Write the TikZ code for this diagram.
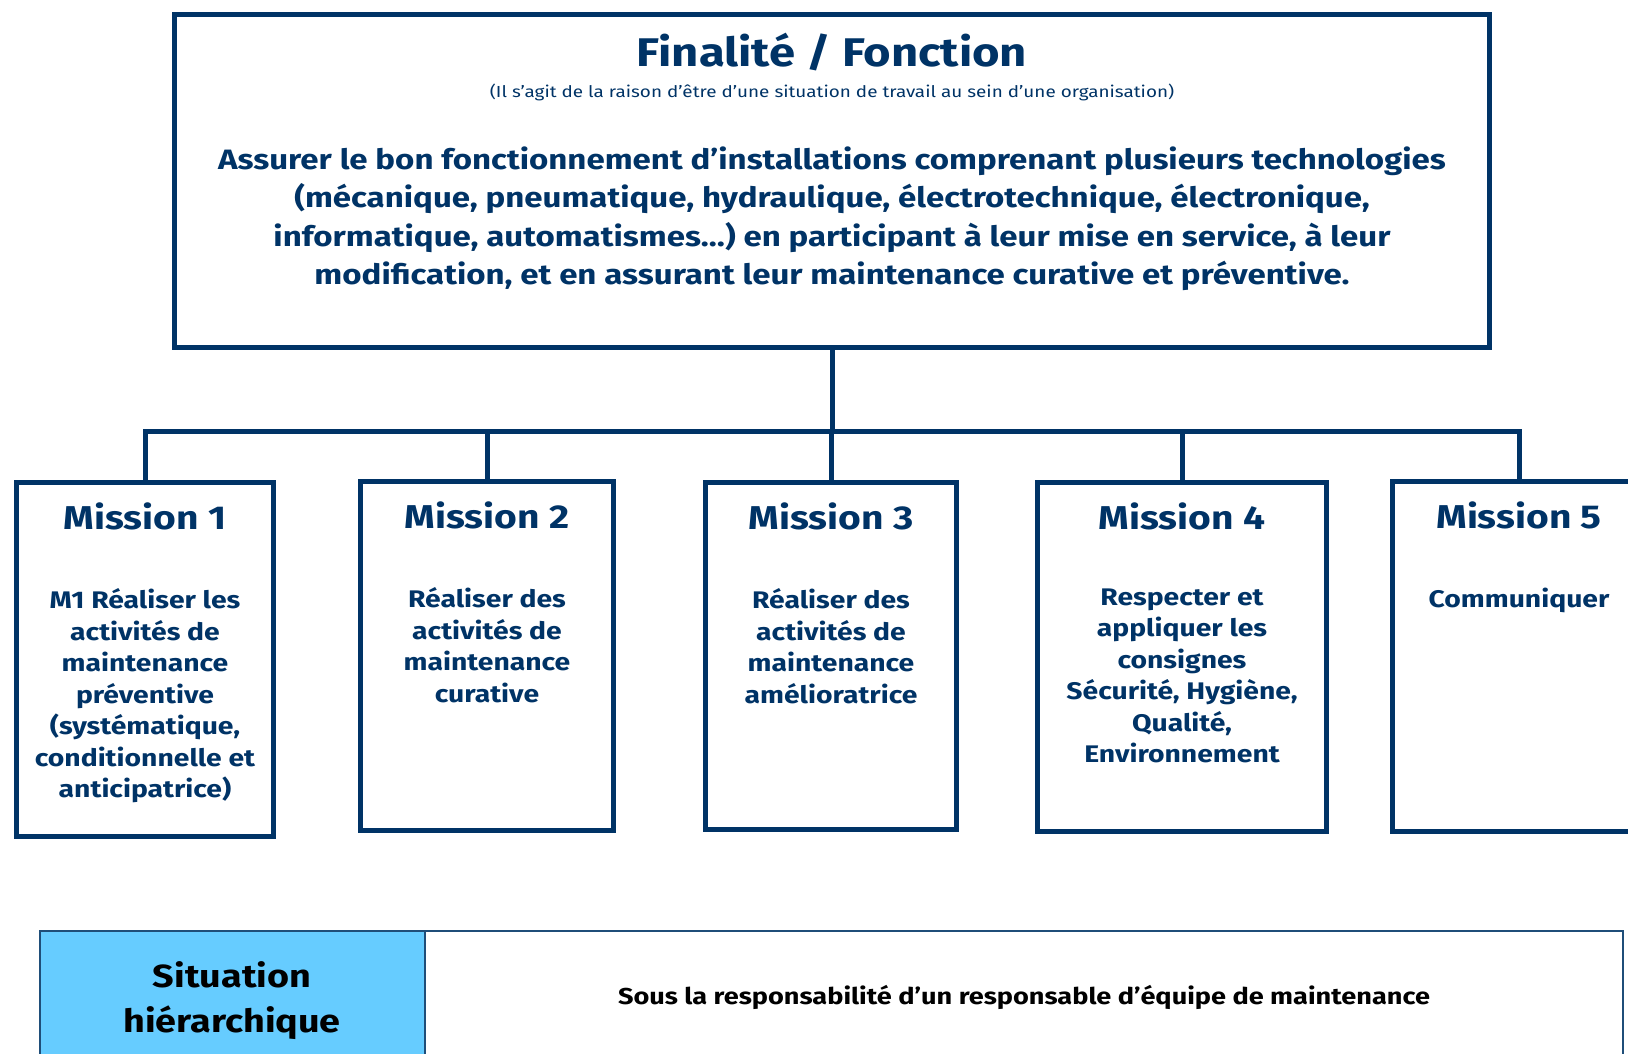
\documentclass[tikz,border=0pt]{standalone}
\usepackage{fontspec}
\setmainfont{Fira Sans}[FakeStretch=1.18]
\usepackage{xcolor}
\usepackage{tikz}
\usetikzlibrary{positioning,calc}

\definecolor{navy}{HTML}{003366}
\definecolor{skyblue}{HTML}{66CCFF}
\definecolor{gridblue}{HTML}{1F4E79}

\tikzset{
    boxline/.style={draw=navy, line width=5pt},
    missionbox/.style={boxline, rectangle, inner sep=0pt},
    missiontitle/.style={text=navy, font=\fontsize{33}{38}\selectfont\bfseries},
    missiontext/.style={text=navy, font=\fontsize{24}{31.5}\selectfont\bfseries, align=center, anchor=north},
    cell/.style={draw=gridblue, line width=1.5pt, rectangle, inner sep=0pt}
}

\begin{document}
\begin{tikzpicture}[x=1pt,y=-1pt]
        \useasboundingbox (0,0) rectangle (1628,1054);
        \clip (0,0) rectangle (1628,1054);

        % Finalite box
        \node[missionbox, minimum width=1315pt, minimum height=333pt] (fin) at (832,181) {};
        \node[text=navy, font=\fontsize{40}{46}\selectfont\bfseries] (fintitle) at (832,52) {Finalité / Fonction};
        \node[text=navy, font=\fontsize{16}{19}\selectfont] (finsub) at (832,92) {(Il s’agit de la raison d’être d’une situation de travail au sein d’une organisation)};
        \node[text=navy, font=\fontsize{28}{38.5}\selectfont\bfseries, align=center, anchor=north] (finbody) at (832,143)
            {Assurer le bon fonctionnement d’installations comprenant plusieurs technologies\\
             (mécanique, pneumatique, hydraulique, électrotechnique, électronique,\\
             informatique, automatismes…) en participant à leur mise en service, à leur\\
             modification, et en assurant leur maintenance curative et préventive.};

        % Missions
        \node[missionbox, minimum width=257pt, minimum height=354pt] (m1) at (145,659.5) {};
        \node[missionbox, minimum width=253pt, minimum height=349pt] (m2) at (487,656) {};
        \node[missionbox, minimum width=251pt, minimum height=347pt] (m3) at (831,656) {};
        \node[missionbox, minimum width=289pt, minimum height=349pt] (m4) at (1182,657) {};
        \node[missionbox, minimum width=253pt, minimum height=350pt] (m5) at (1519,656.5) {};

        \foreach \m/\n in {m1/1, m2/2, m3/3, m4/4, m5/5}
            \node[missiontitle] (t\m) at ($(\m.north)+(0,36)$) {Mission \n};

        \node[missiontext] (b1) at ($(m1.north)+(0,105)$) {M1 Réaliser les\\activités de\\maintenance\\préventive\\(systématique,\\conditionnelle et\\anticipatrice)};
        \node[missiontext] (b2) at ($(m2.north)+(0,105)$) {Réaliser des\\activités de\\maintenance\\curative};
        \node[missiontext] (b3) at ($(m3.north)+(0,105)$) {Réaliser des\\activités de\\maintenance\\amélioratrice};
        \node[missiontext] (b4) at ($(m4.north)+(0,105)$) {Respecter et\\appliquer les\\consignes\\Sécurité, Hygiène,\\Qualité,\\Environnement};
        \node[missiontext] (b5) at ($(m5.north)+(0,105)$) {Communiquer};

        % Tree
        \coordinate (bar) at (831,431);
        \draw[boxline] (fin.south) -- (fin.south |- bar);
        \draw[boxline, line cap=rect] (m1.north) -- (m1.north |- bar) -- (m5.north |- bar) -- (m5.north);
        \foreach \m in {m2,m3,m4}
            \draw[boxline] (\m.north) -- (\m.north |- bar);

        % Situation hierarchique
        \node[cell, fill=skyblue, minimum width=385pt, minimum height=160pt] (sit) at (232.5,1011) {};
        \node[cell, minimum width=1198pt, minimum height=160pt] (resp) at (1024,1011) {};
        \node[font=\fontsize{32}{45}\selectfont\bfseries, align=center] (sitlabel) at (232,1001) {Situation\\hiérarchique};
        \node[font=\fontsize{23}{28}\selectfont\bfseries] (resplabel) at (1024,997) {Sous la responsabilité d’un responsable d’équipe de maintenance};
\end{tikzpicture}
\end{document}
